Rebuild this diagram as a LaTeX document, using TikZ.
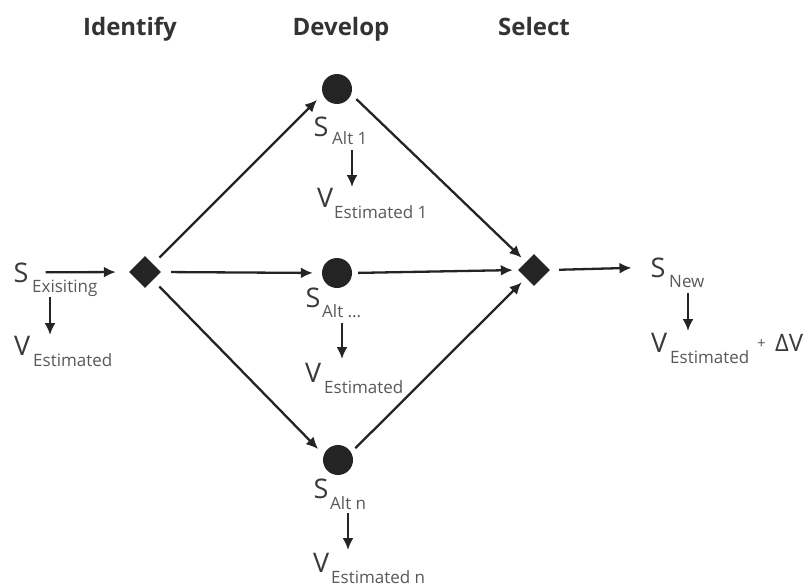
\documentclass[tikz,border=0pt]{standalone}
\usepackage{fontspec}
\setmainfont{Open Sans}
\usetikzlibrary{arrows.meta,shapes.geometric}
\definecolor{ink}{HTML}{242424}
\definecolor{txt}{HTML}{3a3a3a}
\definecolor{headtxt}{HTML}{333333}
\definecolor{subtxt}{HTML}{595959}
\begin{document}
\begin{tikzpicture}[x=1pt,y=-1pt,
 head/.style={font=\fontsize{24}{24}\selectfont\bfseries, text=headtxt, anchor=base, inner sep=0},
 big/.style={font=\fontsize{27}{27}\selectfont, text=txt, anchor=base west, inner sep=0},
 sub/.style={font=\fontsize{17}{17}\selectfont, text=subtxt, anchor=base west, inner sep=0},
 dia/.style={diamond, aspect=1, fill=ink, minimum size=32pt, inner sep=0},
 dot/.style={circle, fill=ink, minimum size=30pt, inner sep=0},
 arr/.style={draw=ink, line width=2.3pt, -{Latex[length=12pt,width=11pt]}}]
\fill[white] (0,0) rectangle (811,586);
\useasboundingbox (0,0) rectangle (811,586);

% headers
\node[head] (h1) at (130,36) {Identify};
\node[head] (h2) at (341,36) {Develop};
\node[head] (h3) at (534,36) {Select};

% shapes
\node[dia] (d1) at (145,272) {};
\node[dia] (d2) at (534,270) {};
\node[dot] (c1) at (337,89) {};
\node[dot] (c2) at (337,273) {};
\node[dot] (c3) at (338,460) {};

% labels: existing
\node[big] (sex) at (13.5,282) {S};
\node[sub] (sexs) at (32,292) {Exisiting};
\node[big] (vex) at (14,355) {V};
\node[sub] (vexs) at (33,366) {Estimated};
% alt 1
\node[big] (sa1) at (313.5,136) {S};
\node[sub] (sa1s) at (332,144) {Alt 1};
\node[big] (va1) at (317,207) {V};
\node[sub] (va1s) at (334,218) {Estimated 1};
% alt ...
\node[big] (sa2) at (305.5,307) {S};
\node[sub] (sa2s) at (322,317) {Alt ...};
\node[big] (va2) at (305,382) {V};
\node[sub] (va2s) at (324,393) {Estimated};
% alt n
\node[big] (sa3) at (313.5,498) {S};
\node[sub] (sa3s) at (330,509) {Alt n};
\node[big] (va3) at (313,572) {V};
\node[sub] (va3s) at (331,583) {Estimated n};
% new
\node[big] (sn) at (650.5,277) {S};
\node[sub] (sns) at (669,287) {New};
\node[big] (vn) at (651,352) {V};
\node[sub] (vns) at (670,363) {Estimated};
\node[font=\fontsize{15}{15}\selectfont, text=subtxt, anchor=base west, inner sep=0] (plus) at (757,348) {+};
\node[font=\fontsize{24}{24}\selectfont, text=txt, anchor=base west, inner sep=0] (dv) at (775,351) {ΔV};

% horizontal flow
\draw[arr, shorten <=17pt, shorten >=13pt] (sex.east) -- (d1.west);
\draw[arr, shorten <=10pt, shorten >=9pt] (d1.east) -- (c2.west);
\draw[arr, shorten <=6pt, shorten >=5pt] (c2.east) -- (d2.west);
\draw[arr, shorten <=9pt, shorten >=19pt] (d2.east) -- (sn.west);
% diagonals
\draw[arr, shorten <=9pt, shorten >=8pt] (d1.north east) -- (c1.200);
\draw[arr, shorten <=9pt, shorten >=8pt] (d1.south east) -- (c3.160);
\draw[arr, shorten <=7pt, shorten >=6pt] (c1.-20) -- (d2.north west);
\draw[arr, shorten <=6pt, shorten >=6pt] (c3.30) -- (d2.south west);

% value arrows
\coordinate (v0s) at (50,297); \coordinate (v0e) at (50,335);
\coordinate (v1s) at (352,150); \coordinate (v1e) at (352,187);
\coordinate (v2s) at (342,323); \coordinate (v2e) at (342,359);
\coordinate (v3s) at (348,513); \coordinate (v3e) at (348,550);
\coordinate (v4s) at (688,293); \coordinate (v4e) at (688,331);
\draw[arr] (v0s) -- (v0e);
\draw[arr] (v1s) -- (v1e);
\draw[arr] (v2s) -- (v2e);
\draw[arr] (v3s) -- (v3e);
\draw[arr] (v4s) -- (v4e);
\end{tikzpicture}
\end{document}
